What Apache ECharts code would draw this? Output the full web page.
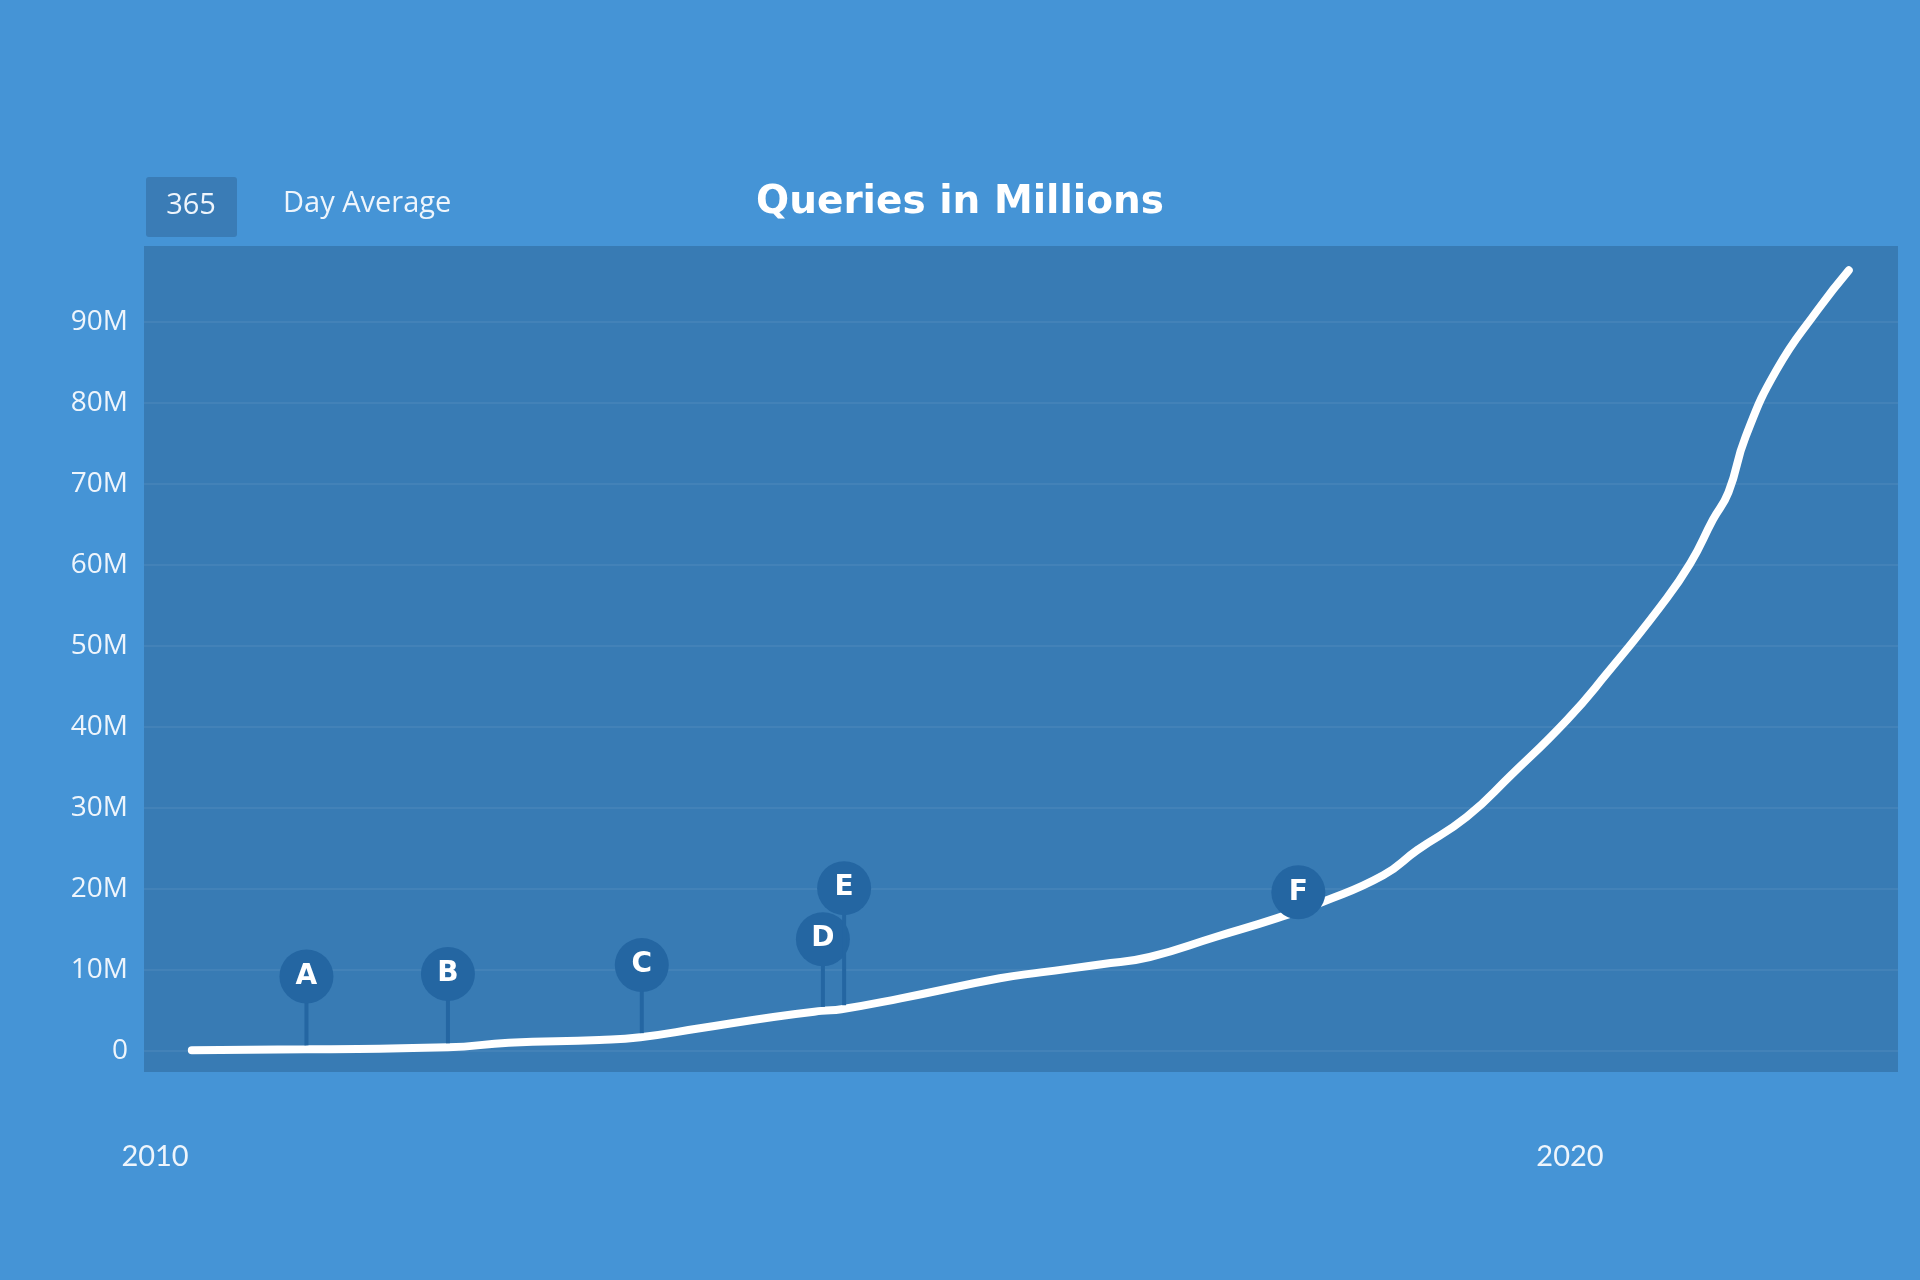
<!DOCTYPE html>
<html>
<head>
<meta charset="utf-8">
<title>Queries in Millions</title>
<script src="https://cdn.jsdelivr.net/npm/echarts@6.0.0/dist/echarts.min.js"></script>
<style>
  html, body { margin: 0; padding: 0; background: #4594d6; }
  #main { width: 1920px; height: 1280px; }
</style>
</head>
<body>
<div id="main"></div>
<script>
// curve, 365 day average (year, millions of queries)
const years = [2010.26, 2011.07, 2012.07, 2012.5, 2013.14, 2013.43, 2013.85, 2014.37, 2014.71, 2014.85,
  2015.27, 2015.97, 2016.26, 2016.69, 2017.03, 2017.5, 2017.93, 2018.25, 2018.68, 2018.92,
  2019.27, 2019.58, 2019.98, 2020.26, 2020.64, 2020.85, 2021.01, 2021.12, 2021.24, 2021.46, 2021.75, 2021.97]
const queries = [0.1, 0.2, 0.45, 1.0, 1.36, 1.7, 2.8, 4.2, 4.95, 5.15,
  6.5, 8.97, 9.7, 10.7, 11.6, 14.1, 16.4, 18.4, 21.7, 24.8,
  28.9, 34.0, 40.9, 46.6, 54.9, 60.2, 65.6, 69.0, 75.8, 84.1, 91.5, 96.4]

// annotation pins
const pinLabels = ['A', 'B', 'C', 'D', 'E', 'F']
const pinYears = [2011.07, 2012.07, 2013.44, 2014.72, 2014.87, 2018.08]
const pinBase = [0.2, 0.45, 1.7, 4.95, 5.15, 17.3]
const pinTop = [9.2, 9.5, 10.6, 13.8, 20.1, 19.6]

const yTicks = [0, 10, 20, 30, 40, 50, 60, 70, 80, 90]
const xTicks = [2010, 2020]

const pinColor = '#2466a2'
const textColor = '#eef5fc'

const myChart = echarts.init(document.getElementById('main'))

const option = {
  backgroundColor: '#4594d6',
  animation: false,
  title: {
    text: 'Queries in Millions',
    left: 'center',
    top: 173,
    textStyle: { color: '#ffffff', fontFamily: 'DejaVu Sans', fontWeight: 'bold', fontSize: 39, lineHeight: 50 }
  },
  graphic: [
    {
      type: 'rect',
      left: 146, top: 177,
      shape: { width: 91, height: 60, r: 3 },
      style: { fill: '#3a7cb6' }
    },
    {
      type: 'text',
      x: 191, y: 206,
      style: { text: '365', fill: textColor, font: '29px "Open Sans"', align: 'center', verticalAlign: 'middle' }
    },
    {
      type: 'text',
      x: 283, y: 204,
      style: { text: 'Day Average', fill: textColor, font: '29px "Open Sans"', align: 'left', verticalAlign: 'middle' }
    }
  ],
  grid: {
    left: 144,
    right: 22,
    top: 246,
    bottom: 208,
    show: true,
    backgroundColor: '#387bb4',
    borderWidth: 0
  },
  xAxis: {
    type: 'value',
    min: 2009.922,
    max: 2022.318,
    axisLine: { show: false },
    axisTick: { show: false, customValues: xTicks },
    splitLine: { show: false },
    axisLabel: {
      customValues: xTicks,
      margin: 70,
      color: textColor,
      fontFamily: 'Lato',
      fontSize: 29,
      formatter: (v) => String(Math.round(v))
    }
  },
  yAxis: {
    type: 'value',
    min: -2.6,
    max: 99.4,
    axisLine: { show: false },
    axisTick: { show: false, customValues: yTicks },
    splitLine: { show: true, lineStyle: { color: 'rgba(255,255,255,0.06)', width: 2 } },
    axisLabel: {
      customValues: yTicks,
      margin: 16,
      color: textColor,
      fontFamily: 'Open Sans',
      fontSize: 28,
      formatter: (v) => (v === 0 ? '0' : v + 'M')
    }
  },
  series: [
    {
      type: 'line',
      data: years.map((y, i) => [y, queries[i]]),
      smooth: 0.5,
      symbol: 'none',
      lineStyle: { color: '#ffffff', width: 8, cap: 'round' },
      z: 3
    },
    {
      type: 'custom',
      data: pinYears.map((y, i) => [y, pinBase[i], pinTop[i], i]),
      z: 5,
      renderItem: (params, api) => {
        const base = api.coord([api.value(0), api.value(1)])
        const top = api.coord([api.value(0), api.value(2)])
        return {
          type: 'group',
          children: [
            {
              type: 'line',
              shape: { x1: base[0], y1: base[1] - 4, x2: top[0], y2: top[1] },
              style: { stroke: pinColor, lineWidth: 4 }
            },
            {
              type: 'circle',
              shape: { cx: top[0], cy: top[1], r: 27 },
              style: { fill: pinColor }
            },
            {
              type: 'text',
              style: {
                text: pinLabels[api.value(3)],
                x: top[0], y: top[1],
                align: 'center', verticalAlign: 'middle',
                fill: '#ffffff', font: 'bold 28px "DejaVu Sans"'
              }
            }
          ]
        }
      }
    }
  ]
}

option && myChart.setOption(option)
</script>
</body>
</html>
